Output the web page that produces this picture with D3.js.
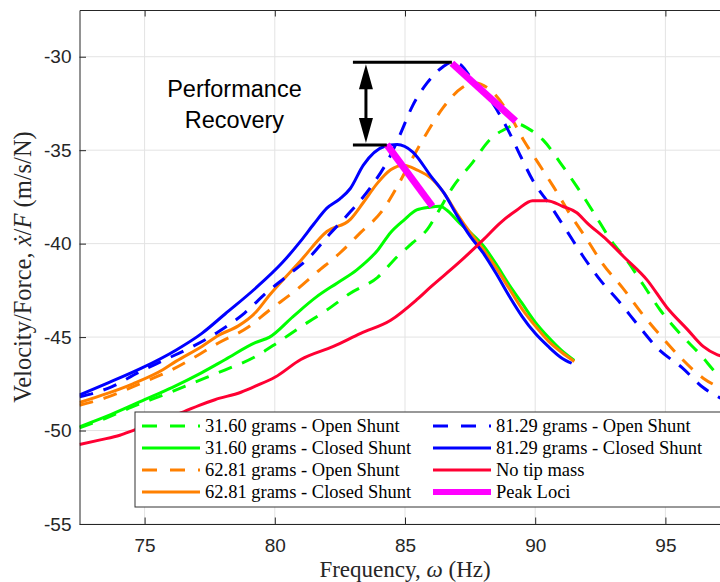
<!DOCTYPE html>
<html>
<head>
<meta charset="utf-8">
<script src="https://cdn.jsdelivr.net/npm/d3@7"></script>
<style>
body { margin: 0; background: #fff; }
svg { display: block; }
</style>
</head>
<body>
<svg></svg>
<script>
const width = 720;
const height = 582;

const freqTicks = [75, 80, 85, 90, 95];
const valueTicks = [-55, -50, -45, -40, -35, -30];

// [frequency (Hz), velocity/force]
const open31 = [[72.5,-49.85],[73.5,-49.35],[74.5,-48.75],[75.9,-48.0],[76.95,-47.4],[78.1,-46.75],[79.25,-46.05],[80.1,-45.3],[81.0,-44.45],[82.0,-43.55],[82.9,-42.65],[83.95,-41.8],[84.7,-40.7],[85.3,-39.95],[85.85,-39.25],[86.25,-38.35],[86.85,-36.95],[87.6,-35.65],[88.25,-34.45],[88.95,-33.8],[89.3,-33.6],[89.8,-33.9],[90.3,-34.45],[90.95,-35.65],[91.6,-36.95],[92.25,-38.35],[92.9,-39.8],[93.55,-40.95],[94.15,-42.2],[94.8,-43.55],[95.55,-44.8],[96.35,-45.95],[97.0,-47.0],[97.5,-47.6]];
const closed31 = [[72.5,-49.8],[73.7,-49.15],[75.0,-48.35],[76.05,-47.7],[77.2,-46.9],[78.1,-46.2],[79.25,-45.3],[79.8,-45.0],[80.7,-43.9],[81.6,-42.85],[82.4,-42.1],[83.15,-41.4],[83.95,-40.35],[84.45,-39.4],[84.95,-38.75],[85.45,-38.2],[85.95,-38.05],[86.35,-38.0],[86.6,-38.2],[87.1,-38.9],[87.5,-39.4],[88.0,-40.1],[88.5,-41.1],[89.0,-42.2],[89.5,-43.2],[90.0,-44.2],[90.5,-45.0],[91.0,-45.7],[91.5,-46.25]];
const open62 = [[72.5,-48.65],[73.6,-48.2],[74.9,-47.45],[75.9,-46.85],[76.95,-46.05],[77.85,-45.3],[79.0,-44.45],[79.8,-43.55],[80.85,-42.45],[81.6,-41.55],[82.5,-40.5],[83.3,-39.4],[84.15,-38.2],[84.7,-36.95],[85.2,-35.65],[85.85,-34.05],[86.45,-32.75],[87.2,-31.65],[87.7,-31.4],[88.25,-31.75],[88.95,-32.95],[89.55,-34.45],[90.1,-35.65],[90.7,-36.95],[91.35,-38.45],[92.0,-39.8],[92.6,-41.1],[93.35,-42.35],[94.05,-43.65],[94.8,-44.9],[95.55,-46.05],[96.45,-47.2],[97.5,-47.9]];
const closed62 = [[72.5,-48.5],[73.6,-48.0],[74.55,-47.5],[75.7,-46.75],[76.2,-46.3],[77.2,-45.5],[77.85,-44.9],[78.6,-44.4],[79.25,-43.7],[79.8,-42.75],[81.0,-40.9],[82.0,-39.35],[82.9,-38.7],[83.4,-37.8],[83.95,-36.75],[84.45,-36.05],[84.95,-35.8],[85.45,-36.05],[86.0,-36.5],[86.5,-37.3],[87.0,-38.4],[87.5,-39.4],[88.0,-40.3],[88.5,-41.3],[89.0,-42.4],[89.5,-43.5],[90.0,-44.4],[90.5,-45.2],[91.0,-45.8],[91.5,-46.3]];
const open81 = [[72.5,-48.2],[73.75,-47.65],[74.75,-46.9],[75.8,-46.2],[76.85,-45.5],[77.85,-44.7],[78.85,-43.7],[79.7,-42.6],[80.5,-41.7],[81.35,-40.7],[82.1,-39.5],[82.9,-38.3],[83.7,-36.95],[84.4,-35.4],[84.8,-34.2],[85.3,-32.6],[85.85,-31.4],[86.45,-30.55],[86.8,-30.3],[87.1,-30.4],[87.5,-31.05],[88.35,-32.45],[88.95,-33.9],[89.45,-35.35],[89.9,-36.6],[90.6,-38.0],[91.25,-39.4],[91.85,-40.7],[92.5,-41.95],[93.25,-43.15],[94.0,-44.45],[94.7,-45.6],[95.65,-46.65],[96.45,-47.7],[97.5,-48.5]];
const closed81 = [[72.5,-48.1],[73.6,-47.45],[74.9,-46.65],[76.2,-45.7],[77.2,-44.8],[78.1,-43.75],[79.25,-42.4],[80.3,-41.0],[81.0,-39.85],[81.5,-38.95],[82.0,-38.1],[82.5,-37.6],[82.9,-37.05],[83.4,-35.8],[84.2,-34.8],[84.7,-34.7],[85.3,-35.1],[86.0,-36.4],[86.5,-37.3],[87.0,-38.5],[87.5,-39.6],[88.0,-40.5],[88.5,-41.6],[89.0,-42.8],[89.5,-43.9],[90.0,-44.8],[90.5,-45.5],[91.0,-46.1],[91.4,-46.4]];
const noTip = [[72.5,-50.75],[73.3,-50.5],[74.05,-50.25],[74.55,-50.0],[75.5,-49.5],[76.5,-49.0],[77.1,-48.65],[77.7,-48.35],[78.7,-47.95],[79.3,-47.6],[80.0,-47.15],[81.0,-46.2],[82.25,-45.5],[83.3,-44.8],[84.45,-44.1],[85.45,-43.0],[86.0,-42.3],[87.0,-41.1],[88.0,-39.8],[88.65,-38.9],[89.3,-38.2],[89.9,-37.7],[90.45,-37.7],[91.05,-38.0],[91.6,-38.35],[92.0,-38.9],[92.75,-39.8],[93.4,-40.7],[94.3,-41.95],[95.05,-43.4],[95.85,-44.6],[96.45,-45.5],[97.0,-45.95],[97.5,-46.1]];
const peakClosed = [[84.3,-34.7],[86.05,-38.0]];
const peakOpen = [[86.8,-30.35],[89.25,-33.45]];

// performance recovery marker (Hz / value)
const recoveryTop = -30.3;
const recoveryBottom = -34.72;

const series = [
    {label: "31.60 grams - Open Shunt", data: [open31], color: "#00ff00", dash: true, w: 3},
    {label: "31.60 grams - Closed Shunt", data: [closed31], color: "#00ff00", dash: false, w: 3},
    {label: "62.81 grams - Open Shunt", data: [open62], color: "#ff8000", dash: true, w: 3},
    {label: "62.81 grams - Closed Shunt", data: [closed62], color: "#ff8000", dash: false, w: 3},
    {label: "81.29 grams - Open Shunt", data: [open81], color: "#0000ff", dash: true, w: 3},
    {label: "81.29 grams - Closed Shunt", data: [closed81], color: "#0000ff", dash: false, w: 3},
    {label: "No tip mass", data: [noTip], color: "#ff0033", dash: false, w: 3},
    {label: "Peak Loci", data: [peakClosed, peakOpen], color: "#ff00ff", dash: false, w: 7}
];

let svg = d3.select("svg")
    .attr("width", width)
    .attr("height", height);

let scaleX = d3.scaleLinear().domain([72.5, 97.5]).range([79.5, 730.5]);
let scaleY = d3.scaleLinear().domain([-55, -27.5]).range([524, 10]);

svg.append("defs").append("clipPath").attr("id", "plotClip")
    .append("rect")
    .attr("x", scaleX(72.5)).attr("y", scaleY(-27.5))
    .attr("width", scaleX(97.5) - scaleX(72.5))
    .attr("height", scaleY(-55) - scaleY(-27.5));

// grid
let grid = svg.append("g").attr("stroke", "#e3e3e3").attr("stroke-width", 1);
grid.selectAll("line.gx").data(freqTicks).enter().append("line")
    .attr("x1", d => scaleX(d)).attr("x2", d => scaleX(d))
    .attr("y1", scaleY(-27.5)).attr("y2", scaleY(-55));
grid.selectAll("line.gy").data(valueTicks).enter().append("line")
    .attr("y1", d => scaleY(d)).attr("y2", d => scaleY(d))
    .attr("x1", scaleX(72.5)).attr("x2", scaleX(97.5));

// curves
let lineXY = d3.line()
    .x(d => scaleX(d[0]))
    .y(d => scaleY(d[1]))
    .curve(d3.curveMonotoneX);

let plot = svg.append("g").attr("clip-path", "url(#plotClip)");
series.forEach(s => {
    s.data.forEach(arr => {
        plot.append("path")
            .datum(arr)
            .attr("d", lineXY)
            .attr("fill", "none")
            .attr("stroke", s.color)
            .attr("stroke-width", s.w)
            .attr("stroke-dasharray", s.dash ? "14,11" : null)
            .attr("stroke-linejoin", "round");
    });
});

// annotation: performance recovery
const barLeft = 83.0;
const arrowFreq = 83.5;
let ann = svg.append("g");
ann.append("line")
    .attr("x1", scaleX(barLeft)).attr("x2", scaleX(peakOpen[0][0]))
    .attr("y1", scaleY(recoveryTop)).attr("y2", scaleY(recoveryTop))
    .attr("stroke", "#000").attr("stroke-width", 3);
ann.append("line")
    .attr("x1", scaleX(barLeft)).attr("x2", scaleX(peakClosed[0][0]))
    .attr("y1", scaleY(recoveryBottom)).attr("y2", scaleY(recoveryBottom))
    .attr("stroke", "#000").attr("stroke-width", 3);
let ax = scaleX(arrowFreq), ay1 = scaleY(recoveryTop), ay2 = scaleY(recoveryBottom);
ann.append("line")
    .attr("x1", ax).attr("x2", ax).attr("y1", ay1 + 10).attr("y2", ay2 - 10)
    .attr("stroke", "#000").attr("stroke-width", 3);
ann.append("polygon")
    .attr("points", [[ax, ay1 + 2], [ax - 7, ay1 + 27], [ax + 7, ay1 + 27]].join(" "))
    .attr("fill", "#000");
ann.append("polygon")
    .attr("points", [[ax, ay2 - 2], [ax - 7, ay2 - 27], [ax + 7, ay2 - 27]].join(" "))
    .attr("fill", "#000");
let annText = ann.append("text")
    .attr("font-family", "Liberation Sans, Arial, sans-serif")
    .attr("font-size", 23.5)
    .attr("text-anchor", "middle")
    .attr("fill", "#000");
annText.append("tspan").attr("x", scaleX(78.45)).attr("y", scaleY(-32.15)).text("Performance");
annText.append("tspan").attr("x", scaleX(78.45)).attr("y", scaleY(-33.83)).text("Recovery");

// axes
let axisStyle = g => {
    g.select(".domain").attr("stroke", "#262626");
    g.selectAll(".tick line").attr("stroke", "#262626");
    g.selectAll(".tick text")
        .attr("fill", "#262626")
        .attr("font-family", "Liberation Sans, Arial, sans-serif")
        .attr("font-size", 19);
};
svg.append("g")
    .attr("transform", `translate(${scaleX(72.5)},0)`)
    .call(d3.axisLeft(scaleY).tickValues(valueTicks).tickSize(-6.5).tickPadding(8).tickSizeOuter(0).tickFormat(d => String(d)))
    .call(axisStyle);
svg.append("g")
    .attr("transform", `translate(0,${scaleY(-55)})`)
    .call(d3.axisBottom(scaleX).tickValues(freqTicks).tickSize(-6.5).tickPadding(15).tickSizeOuter(0).tickFormat(d => String(d)))
    .call(axisStyle);
svg.append("g")
    .attr("transform", `translate(0,${scaleY(-27.5)})`)
    .call(d3.axisTop(scaleX).tickValues(freqTicks).tickSize(-6.5).tickFormat("").tickSizeOuter(0))
    .call(axisStyle);

// axis labels
svg.append("text")
    .attr("x", (scaleX(72.5) + scaleX(97.5)) / 2)
    .attr("y", 577)
    .attr("text-anchor", "middle")
    .attr("font-family", "Liberation Serif, Times New Roman, serif")
    .attr("font-size", 23)
    .attr("fill", "#262626")
    .call(t => {
        t.append("tspan").text("Frequency, ");
        t.append("tspan").attr("font-style", "italic").text("ω");
        t.append("tspan").text(" (Hz)");
    });
svg.append("text")
    .attr("transform", `translate(31,${(scaleY(-27.5) + scaleY(-55)) / 2}) rotate(-90)`)
    .attr("text-anchor", "middle")
    .attr("font-family", "Liberation Serif, Times New Roman, serif")
    .attr("font-size", 24.5)
    .attr("fill", "#262626")
    .call(t => {
        t.append("tspan").text("Velocity/Force, ");
        t.append("tspan").attr("font-style", "italic").text("ẋ");
        t.append("tspan").text("/");
        t.append("tspan").attr("font-style", "italic").text("F");
        t.append("tspan").text(" (m/s/N)");
    });

// legend
const legendLeft = 135, legendTop = 412, rowH = 22, colW = 291;
let legend = svg.append("g");
legend.append("rect")
    .attr("x", legendLeft).attr("y", legendTop)
    .attr("width", 620).attr("height", 95)
    .attr("fill", "#fff").attr("stroke", "#333").attr("stroke-width", 1);
let items = legend.selectAll("g.item").data(series).enter().append("g")
    .attr("transform", (d, i) => `translate(${legendLeft + Math.floor(i / 4) * colW},${legendTop + 14 + (i % 4) * rowH})`);
items.append("line")
    .attr("x1", 7).attr("x2", 65).attr("y1", 0).attr("y2", 0)
    .attr("stroke", d => d.color)
    .attr("stroke-width", d => d.w === 7 ? 6 : 3)
    .attr("stroke-dasharray", d => d.dash ? "15,13" : null);
items.append("text")
    .attr("x", 70).attr("y", 6)
    .attr("font-family", "Liberation Serif, Times New Roman, serif")
    .attr("font-size", 18.5)
    .attr("fill", "#000")
    .text(d => d.label);
</script>
</body>
</html>
